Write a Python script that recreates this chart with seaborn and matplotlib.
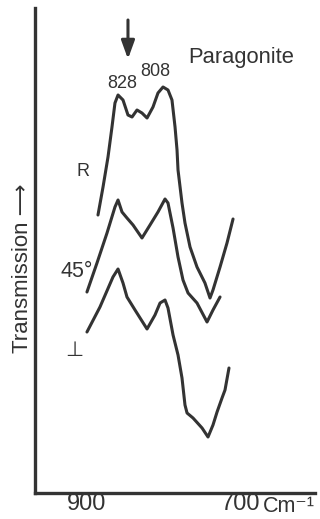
import matplotlib
matplotlib.use("Agg")
import matplotlib.pyplot as plt
import matplotlib.transforms as mtransforms
import seaborn as sns
import pandas as pd

# Wavenumber (cm^-1) and transmission (arbitrary units)
r_wn = [876.5, 869.9, 863.4, 858.2, 854.3, 850.3, 843.8, 837.3, 832.0, 825.5, 819.0, 812.4,
        804.6, 798.1, 791.5, 785.0, 779.8, 775.8, 773.2, 771.9, 766.7, 762.8, 756.2, 747.1,
        736.7, 730.1, 726.2, 717.0, 707.9, 700.0]
r_tr = [28.0, 30.8, 33.8, 36.8, 39.2, 40.0, 39.5, 38.0, 37.8, 38.5, 38.2, 37.7,
        38.8, 40.2, 40.8, 40.5, 39.5, 36.8, 34.5, 32.5, 29.2, 27.2, 24.8, 22.8,
        21.2, 19.7, 20.5, 22.8, 25.2, 27.6]

d45_wn = [890.9, 877.8, 864.7, 854.3, 850.3, 845.1, 838.6, 830.7, 819.0, 808.5, 798.1,
          788.9, 785.0, 778.4, 771.9, 765.4, 758.8, 747.1, 734.0, 726.2, 717.0]
d45_tr = [20.3, 23.2, 26.2, 28.8, 29.5, 28.3, 27.7, 27.0, 25.7, 27.0, 28.3,
          29.6, 29.2, 26.7, 23.8, 21.5, 20.2, 19.2, 17.3, 18.5, 19.8]

perp_wn = [890.9, 873.9, 856.9, 850.3, 843.8, 838.6, 828.1, 812.4, 802.0, 795.4, 788.9,
           785.0, 778.4, 771.9, 766.7, 762.8, 760.1, 752.3, 740.5, 732.7, 726.2, 720.9,
           714.4, 710.5, 705.3]
perp_tr = [16.3, 18.8, 21.8, 22.6, 21.2, 19.8, 18.5, 16.6, 18.0, 19.2, 19.5,
           18.7, 16.0, 14.0, 11.7, 9.0, 8.2, 7.7, 6.7, 5.8, 7.0, 8.3,
           9.7, 10.5, 12.7]

curve_names = ["R", "45°", "⊥"]
tick_values = [900, 800, 700]
tick_labels = ["900", "", "700"]
peak_labels = ["828", "808"]
title_text = "Paragonite"
unit_text = "Cm⁻¹"

frames = []
for name, wn, tr in zip(curve_names, [r_wn, d45_wn, perp_wn], [r_tr, d45_tr, perp_tr]):
    frames.append(pd.DataFrame({"wn": wn, "tr": tr, "curve": name}))
df = pd.concat(frames, ignore_index=True)

sns.set_style("white")
plt.rcParams["font.family"] = ["Liberation Sans", "DejaVu Sans"]
ink = "#333333"

fig = plt.figure(figsize=(3.2, 5.19), dpi=100)
ax = fig.add_axes([35 / 320, 1 - 493 / 519, 280 / 320, 485 / 519])

sns.lineplot(data=df, x="wn", y="tr", units="curve", estimator=None, sort=False,
             color=ink, linewidth=2.2, ax=ax, legend=False)

ax.set_xlim(958.8, 592.9)
ax.set_ylim(0.2, 48.7)

for s in ["top", "right"]:
    ax.spines[s].set_visible(False)
for s in ["left", "bottom"]:
    ax.spines[s].set_color(ink)
    ax.spines[s].set_linewidth(2.4)

ax.set_yticks([])
ax.set_xticks(tick_values)
ax.set_xticklabels(tick_labels, fontsize=17, color=ink)
ax.tick_params(axis="x", direction="in", length=4, width=1.5, color=ink, pad=0)
offset = mtransforms.ScaledTranslation(7 / 100, 0, fig.dpi_scale_trans)
for lab in ax.get_xticklabels():
    lab.set_transform(lab.get_transform() + offset)

ax.set_xlabel("")
ax.set_ylabel("Transmission ⟶", fontsize=16, color=ink)
ax.yaxis.set_label_coords(-0.008, 0.464)

blend = mtransforms.blended_transform_factory(ax.transData, ax.transAxes)
ax.text(661.0, -0.039, unit_text, transform=blend, fontsize=15.5, color=ink,
        ha="left", va="baseline")

# curve labels
ax.text(896.1, 32.3, curve_names[0], fontsize=13, color=ink, ha="center", va="center")
ax.text(926.1, 21.8, curve_names[1], fontsize=15.5, color=ink, ha="left", va="baseline")
ax.text(907.8, 14.5, curve_names[2], fontsize=15, color=ink, ha="center", va="center",
        family=["DejaVu Sans"])

# peak labels
ax.text(845.1, 40.7, peak_labels[0], fontsize=13, color=ink, ha="center", va="baseline")
ax.text(802.0, 41.9, peak_labels[1], fontsize=13, color=ink, ha="center", va="baseline")
ax.text(758.8, 43.2, title_text, fontsize=15.8, color=ink, ha="left", va="baseline")

ax.annotate("", xy=(837.3, 43.6), xytext=(837.3, 47.5),
            arrowprops=dict(arrowstyle="-|>,head_width=0.4,head_length=1.1",
                            color=ink, lw=2.2, shrinkA=0, shrinkB=0))

fig.savefig("out.png", dpi=100)
